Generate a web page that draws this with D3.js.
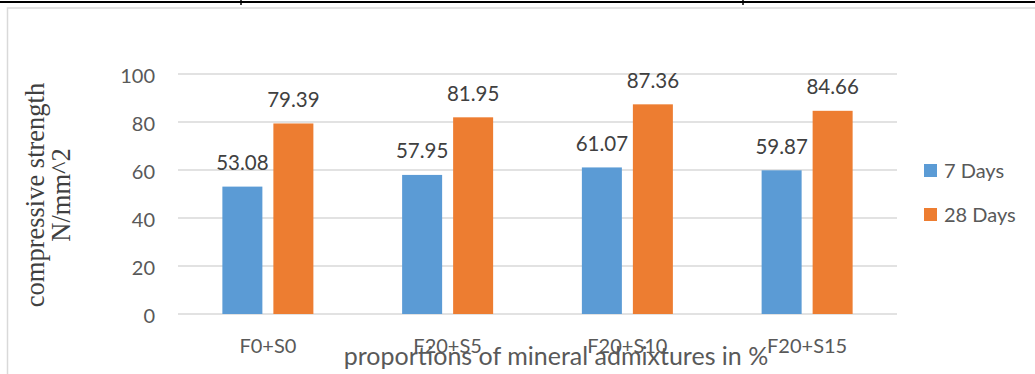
<!DOCTYPE html>
<html>
<head>
<meta charset="utf-8">
<script src="https://cdn.jsdelivr.net/npm/d3@7"></script>
<style>
  html, body { margin: 0; padding: 0; background: #ffffff; }
  svg { display: block; }
</style>
</head>
<body>
<div id="chart"></div>
<script>
const categories = ["F0+S0", "F20+S5", "F20+S10", "F20+S15"];
const seriesNames = ["7 Days", "28 Days"];
const days7 = [53.08, 57.95, 61.07, 59.87];
const days28 = [79.39, 81.95, 87.36, 84.66];
const yTicks = [0, 20, 40, 60, 80, 100];
const colors = ["#5B9BD5", "#ED7D31"];
const yTitleLines = ["compressive strength", "N/mm^2"];
const xTitle = "proportions of mineral admixtures in %";

const W = 1035, H = 374;
const svg = d3.select("#chart").append("svg").attr("width", W).attr("height", H);
const sans = "Lato, 'Open Sans', 'DejaVu Sans', sans-serif";
const textCol = "#595959";

// page frame pieces
svg.append("line").attr("x1", 0).attr("x2", W).attr("y1", 2).attr("y2", 2)
  .attr("stroke", "#000").attr("stroke-width", 2);
[241, 743].forEach(x => svg.append("line").attr("x1", x).attr("x2", x).attr("y1", 0).attr("y2", 5)
  .attr("stroke", "#000").attr("stroke-width", 1.5));
svg.append("path").attr("d", `M7.5,${H} V8 H${W}`).attr("fill", "none")
  .attr("stroke", "#D9D9D9").attr("stroke-width", 1.5);

const plot = { left: 178, right: 897, top: 74, bottom: 314 };
const y = d3.scaleLinear().domain([0, 100]).range([plot.bottom, plot.top]);
const x0 = d3.scaleBand().domain(categories).range([plot.left, plot.right])
  .paddingInner(0.4937).paddingOuter(0.4937 / 2);
const x1 = d3.scaleBand().domain(seriesNames).range([0, x0.bandwidth()]).paddingInner(11 / 51);

// gridlines
svg.append("g").selectAll("line").data(yTicks).join("line")
  .attr("x1", plot.left).attr("x2", plot.right)
  .attr("y1", d => y(d)).attr("y2", d => y(d))
  .attr("stroke", "#D9D9D9").attr("stroke-width", 1.5);

// y axis labels
const yAxis = d3.axisLeft(y).tickValues(yTicks).tickSize(0).tickPadding(0);
const gy = svg.append("g").attr("transform", `translate(155,0)`).call(yAxis);
gy.select(".domain").remove();
gy.selectAll("text").attr("font-family", sans).attr("font-size", 20).attr("fill", textCol)
  .attr("dy", "0.42em");

// bars
const seriesData = [days7, days28];
const groups = svg.append("g").selectAll("g").data(seriesNames).join("g")
  .attr("fill", (d, i) => colors[i]);
groups.selectAll("rect").data((s, si) => categories.map((c, ci) => ({ c, s, v: seriesData[si][ci] })))
  .join("rect")
  .attr("x", d => x0(d.c) + x1(d.s))
  .attr("width", x1.bandwidth())
  .attr("y", d => y(d.v))
  .attr("height", d => y(0) - y(d.v));

// data labels
groups.selectAll("text").data((s, si) => categories.map((c, ci) => ({ c, s, v: seriesData[si][ci] })))
  .join("text")
  .attr("x", d => x0(d.c) + x1(d.s) + x1.bandwidth() / 2)
  .attr("y", d => y(d.v) - 16.5)
  .attr("text-anchor", "middle")
  .attr("font-family", sans).attr("font-size", 20.5).attr("fill", "#404040")
  .text(d => d.v.toFixed(2));

// x axis category labels
const xAxis = d3.axisBottom(x0).tickSize(0).tickPadding(0);
const gx = svg.append("g").attr("transform", `translate(0,353)`).call(xAxis);
gx.select(".domain").remove();
gx.selectAll("text").attr("font-family", sans).attr("font-size", 20).attr("fill", textCol)
  .attr("dy", 0).attr("y", 0);

// x title
svg.append("text").attr("x", 556).attr("y", 365).attr("text-anchor", "middle")
  .attr("font-family", sans).attr("font-size", 25).attr("fill", textCol)
  .text(xTitle);

// y title
const yt = svg.append("text").attr("transform", "translate(44,195) rotate(-90)")
  .attr("text-anchor", "middle").attr("font-family", "'Liberation Serif', 'Times New Roman', serif")
  .attr("font-size", 26.5).attr("fill", "#404040");
yt.selectAll("tspan").data(yTitleLines).join("tspan")
  .attr("x", 0).attr("y", (d, i) => i * 26).text(d => d);

// legend
const lg = svg.append("g").selectAll("g").data(seriesNames).join("g")
  .attr("transform", (d, i) => `translate(924,${164 + i * 44})`);
lg.append("rect").attr("width", 13).attr("height", 13).attr("fill", (d, i) => colors[i]);
lg.append("text").attr("x", 20).attr("y", 14).attr("font-family", sans).attr("font-size", 20)
  .attr("fill", textCol).text(d => d);
</script>
</body>
</html>
